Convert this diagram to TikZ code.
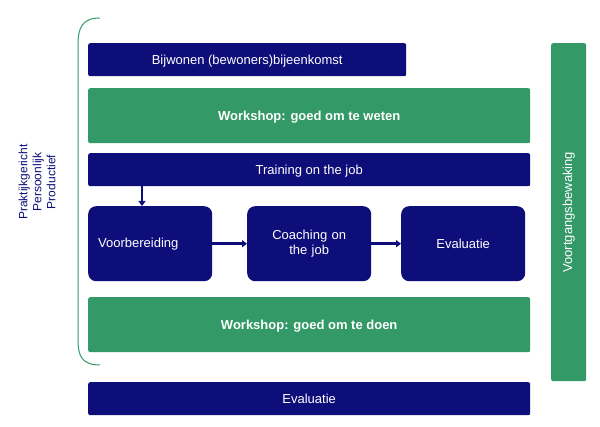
\documentclass[tikz,border=0pt]{standalone}
\usepackage{fontspec}
\setmainfont{Liberation Sans}
\usetikzlibrary{arrows.meta,positioning}
\definecolor{navy}{RGB}{14,14,122}
\definecolor{leaf}{RGB}{51,153,102}
\begin{document}
\begin{tikzpicture}[
        x=1pt, y=-1pt,
        font=\fontsize{13}{15}\selectfont,
        bar/.style={
            anchor=north west, rounded corners=2pt, fill=navy, text=white,
            minimum height=33pt, inner xsep=10pt, text depth=0pt
        },
        band/.style={
            bar, fill=leaf, minimum height=55pt, font=\fontsize{13}{15}\selectfont\bfseries
        },
        stepbox/.style={
            anchor=north west, rounded corners=8pt, fill=navy, text=white,
            minimum width=124pt, minimum height=75pt, align=center
        },
        arrow/.style={-{Triangle[length=5pt,width=7pt]}, navy, line width=2.5pt}
        ]
        \useasboundingbox (0,0) rectangle (600,427);

        % --- Left bracket and labels ---
        \draw[leaf, line width=1pt] (100,18) .. controls (82,18) and (78,28) .. (78,45)
            -- (78,340) .. controls (78,356) and (82,365) .. (100,365);
        \node[rotate=90, text=navy, align=center, font=\fontsize{12}{14}\selectfont] (motto) at (37,182)
        {Praktijkgericht\\Persoonlijk\\Productief};

        % --- Rows ---
        \node[bar, minimum width=318pt] (meeting) at (88,43) {Bijwonen (bewoners)bijeenkomst};
        \node[band, minimum width=442pt] (weten) at (88,88) {Workshop: goed om te weten};
        \node[bar, minimum width=442pt] (training) at (88,153) {Training on the job};

        % --- Steps ---
        \node[stepbox, align=left, text width=104pt] (prep) at (88,206) {Voorbereiding};
        \node[stepbox, text width=104pt] (coach) at (247,206) {Coaching on\\the job};
        \node[stepbox, text width=104pt] (eval) at (401,206) {Evaluatie};

        \node[band, minimum width=442pt] (doen) at (88,297) {Workshop: goed om te doen};
        \node[bar, minimum width=442pt] (final) at (88,382) {Evaluatie};

        % --- Right bar ---
        \node[fill=leaf, rounded corners=2pt, anchor=north west, minimum width=35pt,
            minimum height=338pt] (track) at (551,43) {};
        \node[rotate=90, text=white] (tracklabel) at (track.center) {Voortgangsbewaking};

        % --- Arrows ---
        \draw[arrow] (training.south west) ++(54,0) coordinate (drop) -- (drop |- prep.north);
        \draw[arrow] (prep) -- (coach);
        \draw[arrow] (coach) -- (eval);
\end{tikzpicture}
\end{document}
